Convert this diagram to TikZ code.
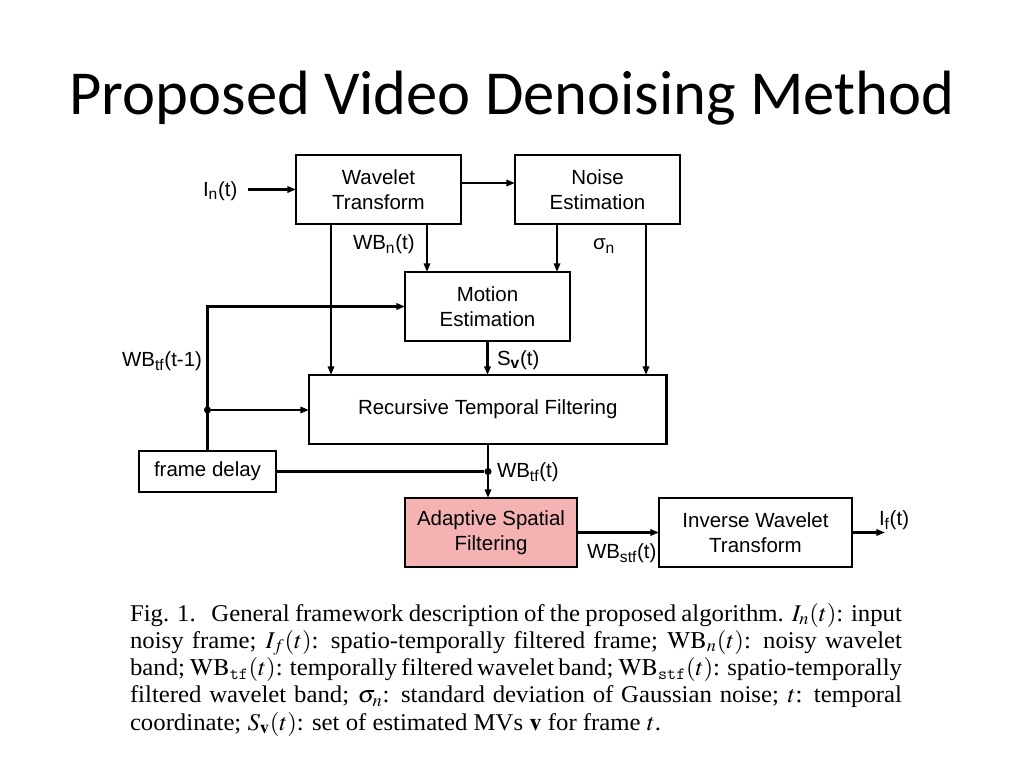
\documentclass[tikz,border=0pt]{standalone}
\usepackage{mathptmx}
\usepackage{graphicx}
\usepackage{fontspec}
\setmainfont{Liberation Serif}
\newfontfamily\arialf{Liberation Sans}
\newfontfamily\calibrif{Carlito}
\usetikzlibrary{arrows.meta,calc}
\definecolor{pinkfill}{RGB}{244,178,178}
\newlength{\capw}
\setlength{\capw}{527pt}
\newcommand{\capln}[1]{\scalebox{1.03}[1]{\spaceskip=.25em plus .6em minus .14em\makebox[\capw][s]{#1}}}
\begin{document}
\begin{tikzpicture}[x=0.703125pt,y=-0.703125pt,
  box/.style={draw=black,line width=1.6pt,inner sep=0pt,outer sep=0pt,align=center,
    font=\arialf\fontsize{14.4}{17.2}\selectfont},
  lbl/.style={inner sep=0pt,outer sep=0pt,font=\arialf\fontsize{14.4}{17.2}\selectfont},
  capline/.style={inner sep=0pt,outer sep=0pt,anchor=base west,font=\fontsize{16.9}{19.2}\selectfont},
  arr/.style={line width=1.6pt,-{Triangle[length=6pt,width=4.4pt]}},
  ln/.style={line width=1.6pt},
  dot/.style={circle,fill=black,inner sep=0pt,minimum size=5pt}]
\useasboundingbox[fill=white] (0,0) rectangle (1024,768);

% title
\node[anchor=base,inner sep=0pt,font=\calibrif\fontsize{44}{52}\selectfont] (title) at (512,115) {Proposed Video Denoising Method};

% boxes
\node[box,minimum width=116.0pt,minimum height=48.5pt] (wt) at (378.5,189.5) {Wavelet\\Transform};
\node[box,minimum width=116.0pt,minimum height=48.5pt] (ne) at (597.5,189.5) {Noise\\Estimation};
\node[box,minimum width=116.0pt,minimum height=48.5pt] (me) at (487.5,306.5) {Motion\\Estimation};
\node[box,minimum width=251.4pt,minimum height=48.5pt] (rtf) at (487.8,409.5) {Recursive Temporal Filtering};
\node[box,minimum width=96.3pt,minimum height=28.8pt] (fd) at (207.5,471.5) {frame delay};
\node[box,fill=pinkfill,minimum width=120.9pt,minimum height=48.5pt] (asf) at (491,532.5) {Adaptive Spatial\\Filtering};
\node[box,minimum width=135.7pt,minimum height=48.5pt] (iwt) at (755.5,532.5) {Inverse Wavelet\\Transform};

% junctions and free ends
\node[dot] (j1) at (488,471.5) {};
\node[dot] (j2) at (207.5,410) {};
\coordinate (instart) at (248,189.5);
\coordinate (outend) at (885,532.5);

% connectors
\draw[arr] (instart) -- (wt.west);
\draw[arr] (wt.east |- 0,183) -- (ne.west |- 0,183);
\draw[arr] (wt.south -| 331,0) -- (rtf.north -| 331,0);
\draw[arr] (wt.south -| 427,0) -- (me.north -| 427,0);
\draw[arr] (ne.south -| 557,0) -- (me.north -| 557,0);
\draw[arr] (ne.south -| 646,0) -- (rtf.north -| 646,0);
\draw[arr] (me.south) -- (rtf.north -| me.south);
\draw[arr] (rtf.south -| j1) -- (asf.north -| j1);
\draw[ln] (fd.east) -- (j1);
\draw[arr] (fd.north) |- (me.west);
\draw[arr] (j2) -- (j2 -| rtf.west);
\draw[arr] (asf.east) -- (iwt.west);
\draw[arr] (iwt.east) -- (outend);

% labels
\node[lbl,anchor=base west] (lin) at (203,196.5) {I\textsubscript{n}(t)};
\node[lbl,anchor=base west] (lwbn) at (353,250) {WB\textsubscript{n}(t)};
\node[lbl,anchor=base west] (lsig) at (593,250) {σ\textsubscript{n}};
\node[lbl,anchor=base west] (lsv) at (497,365) {S\textsubscript{\textbf{v}}(t)};
\node[lbl,anchor=base east] (lwbt1) at (202,366) {WB\textsubscript{tf}(t-1)};
\node[lbl,anchor=base west] (lwbt) at (497,477) {WB\textsubscript{tf}(t)};
\node[lbl,anchor=base west] (lwbs) at (587,558) {WB\textsubscript{stf}(t)};
\node[lbl,anchor=base west] (lif) at (879,525) {I\textsubscript{f}(t)};

% caption
\node[capline] (cap1) at (130,621) {\capln{Fig. 1.\ \ \ General framework description of the proposed algorithm. $I_n(t)$: input}};
\node[capline] (cap2) at (130,648.3) {\capln{noisy frame; $I_f(t)$: spatio-temporally filtered frame; $\mathrm{WB}_n(t)$: noisy wavelet}};
\node[capline] (cap3) at (130,675.5) {\capln{band; $\mathrm{WB}_{\mathtt{tf}}(t)$: temporally filtered wavelet band; $\mathrm{WB}_{\mathtt{stf}}(t)$: spatio-temporally}};
\node[capline] (cap4) at (130,702.8) {\capln{filtered wavelet band; $\sigma_n$: standard deviation of Gaussian noise; $t$: temporal}};
\node[capline] (cap5) at (130,730) {\scalebox{1.03}[1]{coordinate; $S_{\mathbf{v}}(t)$: set of estimated MVs $\mathbf{v}$ for frame $t$.}};
\end{tikzpicture}
\end{document}
